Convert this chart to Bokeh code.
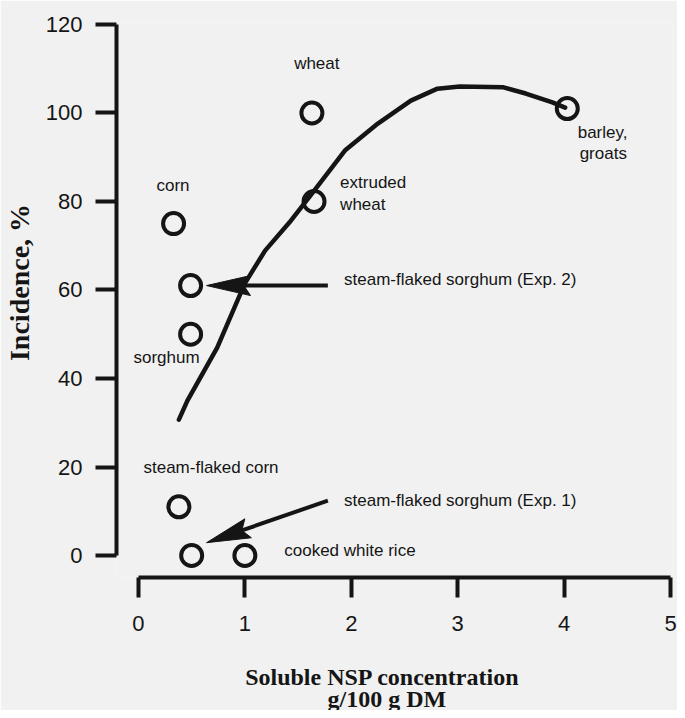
import math
from bokeh.plotting import figure
from bokeh.models import Range1d, FixedTicker, ColumnDataSource, Title
from bokeh.core.properties import value
from bokeh.embed import file_html
from bokeh.resources import INLINE

# ---- data ----
nsp = [1.63, 0.33, 0.49, 0.49, 0.38, 0.50, 1.00, 1.65, 4.03]
incidence = [100, 75, 61, 50, 11, 0, 0, 80, 101]
feed = ["wheat", "corn", "steam-flaked sorghum (Exp. 2)", "sorghum",
        "steam-flaked corn", "steam-flaked sorghum (Exp. 1)",
        "cooked white rice", "extruded wheat", "barley, groats"]

curve_x = [0.38, 0.46, 0.74, 1.00, 1.19, 1.42, 1.63, 1.94, 2.25, 2.56,
           2.81, 3.02, 3.43, 3.64, 3.89, 4.01]
curve_y = [30.7, 35.0, 47.0, 61.5, 68.9, 75.3, 81.8, 91.5, 97.6, 102.8,
           105.5, 106.0, 105.8, 104.4, 102.4, 101.2]

arrow_tail_x = [1.78, 1.78]
arrow_tail_y = [61.0, 12.4]
arrow_tip_x = [0.64, 0.64]
arrow_tip_y = [61.0, 2.9]

x_ticks = [0, 1, 2, 3, 4, 5]
y_ticks = [0, 20, 40, 60, 80, 100, 120]

label_text = ["wheat", "corn", "sorghum", "steam-flaked corn", "extruded",
              "wheat", "barley,", "groats", "steam-flaked sorghum (Exp. 2)",
              "steam-flaked sorghum (Exp. 1)", "cooked white rice"]
label_x = [1.463, 0.169, -0.047, 0.047, 1.895, 1.895, 4.128, 4.146, 1.932, 1.932, 1.370]
label_y = [111.2, 83.6, 44.7, 19.9, 84.3, 79.3, 95.6, 90.8, 62.4, 12.4, 1.1]

x_title_lines = ["Soluble NSP concentration", "g/100 g DM"]
y_title = "Incidence, %"

# ---- layout ----
INK = "#151515"
BG = "#f1f1f1"
NB = "\u00a0"
W, H = 677, 710
BL, BR, BT, BB = 115, 5, 22, 133
X0, X1 = -0.2064, 5.0188
Y0, Y1 = -4.97, 120.45
SX = (W - BL - BR) / (X1 - X0)
SY = (H - BT - BB) / (Y1 - Y0)

p = figure(width=W, height=H, x_range=Range1d(X0, X1), y_range=Range1d(Y0, Y1),
           output_backend="svg", toolbar_location=None,
           min_border_left=BL, min_border_right=BR, min_border_top=BT,
           min_border_bottom=BB)
p.background_fill_color = BG
p.border_fill_color = BG
p.outline_line_color = None
p.grid.visible = False

for ax, ticks, bnds, out, stand in ((p.xaxis[0], x_ticks, (0, 5), 20, 18),
                                    (p.yaxis[0], y_ticks, (0, 120), 21, 13)):
    ax.ticker = FixedTicker(ticks=ticks)
    ax.bounds = bnds
    ax.major_tick_out = out
    ax.major_tick_in = 0
    ax.minor_tick_out = 0
    ax.minor_tick_in = 0
    ax.axis_line_width = 4
    ax.major_tick_line_width = 4
    ax.axis_line_color = INK
    ax.major_tick_line_color = INK
    ax.major_label_text_font = "Liberation Sans"
    ax.major_label_text_font_size = "22px"
    ax.major_label_text_color = INK
    ax.major_label_standoff = stand
    ax.axis_label_text_font = "Liberation Serif"
    ax.axis_label_text_font_style = "bold"
    ax.axis_label_text_color = INK

# y title (leading no-break spaces nudge it up from the frame centre)
p.yaxis[0].axis_label = NB * 5 + y_title
p.yaxis[0].axis_label_text_font_size = "28px"
p.yaxis[0].axis_label_standoff = 8

# x title, first line on the axis (trailing no-break spaces nudge it left)
p.xaxis[0].axis_label = x_title_lines[0] + NB * 4
p.xaxis[0].axis_label_text_font_size = "24px"
p.xaxis[0].axis_label_standoff = 30

# second line as a title below
p.add_layout(Title(text=x_title_lines[1], align="left", offset=211,
                   text_font="Liberation Serif", text_font_style="bold",
                   text_font_size="24px", text_color=INK, standoff=-18), "below")

# curve
p.line(curve_x, curve_y, line_width=4.5, line_color=INK, line_join="round", line_cap="round")

# points
p.scatter(nsp, incidence, marker="circle", size=21, line_width=4,
          line_color=INK, fill_alpha=0)

# arrows
HL, HW = 44.0, 20.0
seg_x0, seg_y0, seg_x1, seg_y1, heads_x, heads_y = [], [], [], [], [], []
for tx, ty, hx, hy in zip(arrow_tail_x, arrow_tail_y, arrow_tip_x, arrow_tip_y):
    dx = (hx - tx) * SX
    dy = (hy - ty) * SY
    L = math.hypot(dx, dy)
    ux, uy = dx / L, dy / L
    nx, ny = -uy, ux
    bx, by = -ux * HL, -uy * HL
    c1 = (bx + nx * HW / 2, by + ny * HW / 2)
    c2 = (bx - nx * HW / 2, by - ny * HW / 2)
    heads_x.append([hx, hx + c1[0] / SX, hx + bx * 0.85 / SX, hx + c2[0] / SX])
    heads_y.append([hy, hy + c1[1] / SY, hy + by * 0.85 / SY, hy + c2[1] / SY])
    seg_x0.append(tx); seg_y0.append(ty)
    seg_x1.append(hx + bx * 0.8 / SX); seg_y1.append(hy + by * 0.8 / SY)
p.segment(seg_x0, seg_y0, seg_x1, seg_y1, line_width=4, line_color=INK)
p.patches(heads_x, heads_y, fill_color=INK, line_color=INK, line_width=1)

# labels
src = ColumnDataSource(dict(x=label_x, y=label_y, t=label_text))
p.text(x="x", y="y", text="t", source=src, text_font=value("Liberation Sans"),
       text_font_size="17px", text_color=INK, text_baseline="middle", text_align="left")

html = file_html(p, INLINE)
html = html.replace("<body>", '<body style="background-color:%s;">' % BG, 1)
open("out.html", "w").write(html)
